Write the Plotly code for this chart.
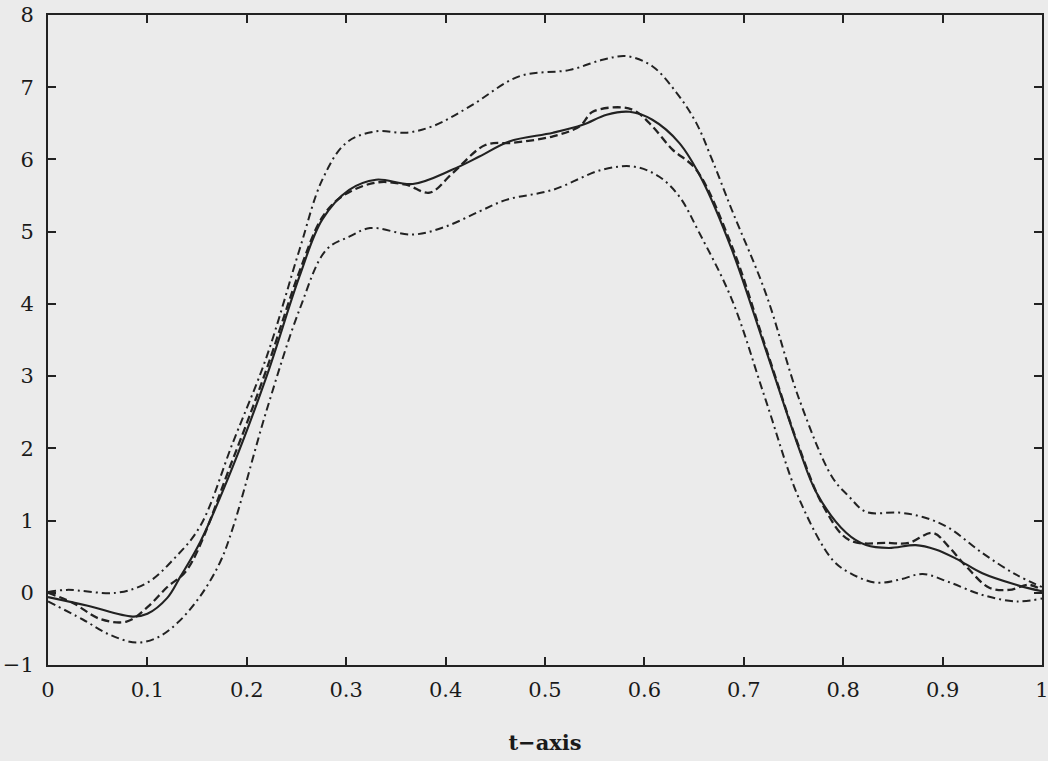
import plotly.graph_objects as go

# Estimate (solid)
t_est = [0.0, 0.04, 0.085, 0.1, 0.12, 0.133, 0.153, 0.186, 0.22, 0.253, 0.276, 0.303, 0.33, 0.367,
         0.407, 0.434, 0.464, 0.508, 0.538, 0.562, 0.585, 0.608, 0.635, 0.658, 0.688, 0.722,
         0.756, 0.773, 0.803, 0.823, 0.846, 0.873, 0.893, 0.914, 0.94, 0.974, 1.0]
y_est = [-0.06, -0.18, -0.33, -0.29, -0.07, 0.22, 0.7, 1.75, 3.0, 4.38, 5.17, 5.58, 5.72, 5.66,
         5.86, 6.04, 6.25, 6.37, 6.48, 6.62, 6.66, 6.55, 6.23, 5.72, 4.75, 3.37,
         1.98, 1.39, 0.83, 0.66, 0.62, 0.66, 0.6, 0.47, 0.27, 0.11, 0.02]

# True function (dashed)
t_true = [0.0, 0.025, 0.052, 0.079, 0.1, 0.12, 0.14, 0.186, 0.22, 0.253, 0.276, 0.296, 0.33,
          0.36, 0.384, 0.407, 0.44, 0.467, 0.508, 0.535, 0.548, 0.578, 0.592, 0.608, 0.628,
          0.652, 0.688, 0.722, 0.756, 0.78, 0.806, 0.846, 0.866, 0.89, 0.906, 0.924, 0.947,
          0.967, 0.987, 1.0]
y_true = [0.0, -0.14, -0.36, -0.4, -0.2, 0.08, 0.32, 1.85, 3.1, 4.45, 5.2, 5.49, 5.68,
          5.65, 5.54, 5.81, 6.2, 6.23, 6.32, 6.46, 6.66, 6.72, 6.66, 6.46, 6.14,
          5.86, 4.8, 3.4, 2.0, 1.2, 0.73, 0.69, 0.69, 0.83, 0.64, 0.36, 0.07,
          0.04, 0.11, 0.04]

# Upper band (dash-dot)
t_up = [0.0, 0.019, 0.069, 0.1, 0.126, 0.153, 0.186, 0.22, 0.253, 0.276, 0.3, 0.33, 0.36, 0.387,
        0.424, 0.474, 0.525, 0.558, 0.582, 0.608, 0.632, 0.652, 0.668, 0.688, 0.722, 0.756,
        0.789, 0.806, 0.823, 0.856, 0.88, 0.906, 0.94, 0.974, 1.0]
y_up = [0.01, 0.04, 0.0, 0.14, 0.46, 0.92, 2.08, 3.27, 4.75, 5.72, 6.23, 6.39, 6.37, 6.46,
        6.73, 7.15, 7.24, 7.38, 7.43, 7.29, 6.93, 6.51, 6.0, 5.3, 4.15, 2.67,
        1.6, 1.33, 1.12, 1.11, 1.05, 0.9, 0.55, 0.25, 0.08]

# Lower band (dash-dot)
t_lo = [0.0, 0.035, 0.062, 0.089, 0.11, 0.13, 0.153, 0.173, 0.186, 0.22, 0.253, 0.28, 0.303,
        0.324, 0.367, 0.4, 0.434, 0.461, 0.508, 0.558, 0.59, 0.615, 0.635, 0.655, 0.688,
        0.722, 0.756, 0.789, 0.806, 0.833, 0.856, 0.88, 0.906, 0.94, 0.974, 1.0]
y_lo = [-0.12, -0.37, -0.58, -0.69, -0.62, -0.42, -0.05, 0.42, 0.9, 2.53, 3.92, 4.75, 4.93,
        5.05, 4.96, 5.07, 5.28, 5.44, 5.58, 5.86, 5.9, 5.76, 5.49, 4.99, 4.06,
        2.67, 1.29, 0.46, 0.28, 0.14, 0.18, 0.26, 0.15, -0.03, -0.12, -0.08]

x_ticks = [0, 0.1, 0.2, 0.3, 0.4, 0.5, 0.6, 0.7, 0.8, 0.9, 1]
x_ticklabels = ["0", "0.1", "0.2", "0.3", "0.4", "0.5", "0.6", "0.7", "0.8", "0.9", "1"]
y_ticks = [-1, 0, 1, 2, 3, 4, 5, 6, 7, 8]
y_ticklabels = ["\u22121", "0", "1", "2", "3", "4", "5", "6", "7", "8"]

ink = "#222222"
dashdot = "8px,4px,2px,4px"

fig = go.Figure()
fig.add_trace(go.Scatter(x=t_up, y=y_up, mode="lines", line=dict(color=ink, width=2, dash=dashdot, shape="spline")))
fig.add_trace(go.Scatter(x=t_lo, y=y_lo, mode="lines", line=dict(color=ink, width=2, dash=dashdot, shape="spline")))
fig.add_trace(go.Scatter(x=t_true, y=y_true, mode="lines", line=dict(color=ink, width=2.3, dash="8px,4px", shape="spline")))
fig.add_trace(go.Scatter(x=t_est, y=y_est, mode="lines", line=dict(color=ink, width=2.1, shape="spline")))

font = dict(family="DejaVu Serif", size=21, color="#1a1a1a")
fig.update_layout(
    width=1048, height=761,
    margin=dict(l=48, r=6, t=15, b=96, autoexpand=False),
    paper_bgcolor="#ebebeb", plot_bgcolor="#ebebeb",
    showlegend=False,
    font=font,
)
fig.update_xaxes(
    range=[0, 1], tickvals=x_ticks, ticktext=x_ticklabels, automargin=False,
    ticks="inside", ticklen=8, tickwidth=1.5, tickcolor=ink,
    showline=True, linewidth=2, linecolor=ink, mirror="allticks",
    showgrid=False, zeroline=False, tickfont=font, ticklabelstandoff=5,
    ticklabeloverflow="allow",
    title=dict(text="<b>t\u2212axis</b>", font=dict(family="DejaVu Serif", size=21, color="#1a1a1a"), standoff=34),
)
fig.update_yaxes(
    range=[-1, 8], tickvals=y_ticks, ticktext=y_ticklabels, automargin=False,
    ticks="inside", ticklen=8, tickwidth=1.5, tickcolor=ink,
    showline=True, linewidth=2, linecolor=ink, mirror="allticks",
    showgrid=False, zeroline=False, tickfont=font, ticklabelstandoff=8,
)
fig.write_html(
    "out.html",
    config={"displayModeBar": False},
    post_script="document.body.style.margin='0';document.body.style.background='#ebebeb';",
)
